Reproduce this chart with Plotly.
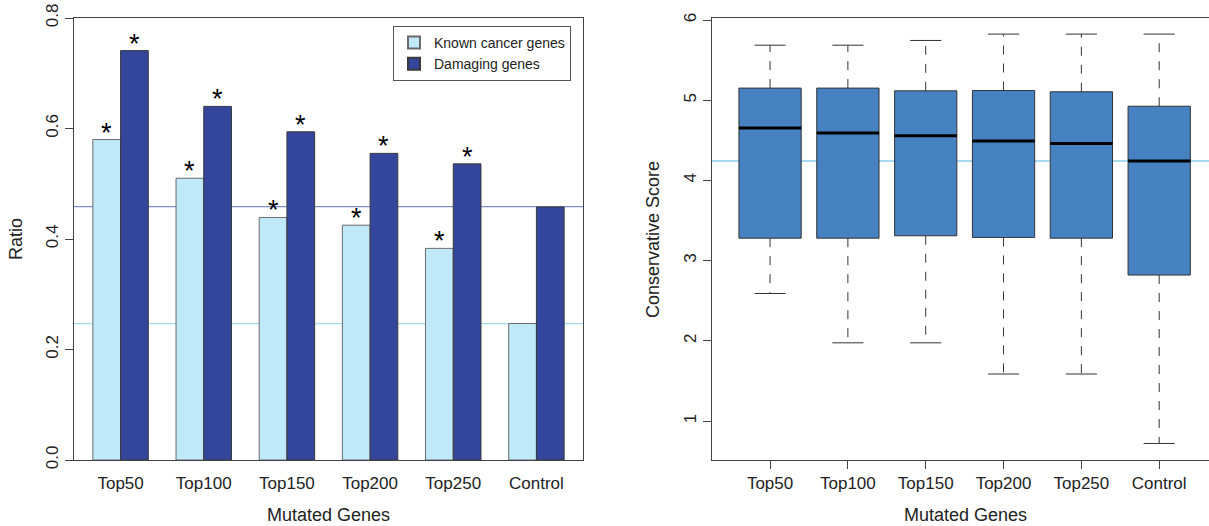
import plotly.graph_objects as go

categories = ["Top50", "Top100", "Top150", "Top200", "Top250", "Control"]
known_cancer = [0.580, 0.510, 0.439, 0.425, 0.383, 0.247]
damaging = [0.741, 0.640, 0.594, 0.555, 0.536, 0.458]
significant = [True, True, True, True, True, False]
ref_known = 0.247
ref_damaging = 0.4587

box_upper = [5.686, 5.686, 5.745, 5.824, 5.824, 5.824]
box_q3 = [5.151, 5.151, 5.117, 5.121, 5.105, 4.925]
box_median = [4.653, 4.590, 4.556, 4.490, 4.460, 4.243]
box_q1 = [3.280, 3.280, 3.310, 3.289, 3.280, 2.820]
box_lower = [2.590, 1.975, 1.975, 1.586, 1.586, 0.720]
ref_score = 4.243

LIGHT = "#BFE9F9"
DARK = "#33469C"
BOXC = "#4682C2"
FONT = "Liberation Sans, Arial, sans-serif"

W, H = 1209, 526
def px(x):
    return x / W
def py(y):
    return 1 - y / H

fig = go.Figure()

# Left: grouped bars
fig.add_trace(go.Bar(x=categories, y=known_cancer, name="Known cancer genes",
                     marker=dict(color=LIGHT, line=dict(color="#6b6b6b", width=1)),
                     xaxis="x", yaxis="y"))
fig.add_trace(go.Bar(x=categories, y=damaging, name="Damaging genes",
                     marker=dict(color=DARK, line=dict(color="#3a3a3a", width=1)),
                     xaxis="x", yaxis="y"))

# asterisks
for i, c in enumerate(categories):
    if significant[i]:
        for val, off in ((known_cancer[i], -1 / 6), (damaging[i], 1 / 6)):
            fig.add_annotation(x=i + off, y=val, xref="x", yref="y", text="*",
                               showarrow=False, yanchor="bottom", yshift=-10,
                               font=dict(size=27, color="black", family=FONT))

# reference lines
fig.add_shape(type="line", xref="x domain", yref="y", x0=0, x1=1,
              y0=ref_damaging, y1=ref_damaging, line=dict(color="#7f8dd0", width=1.3), layer="below")
fig.add_shape(type="line", xref="x domain", yref="y", x0=0, x1=1,
              y0=ref_known, y1=ref_known, line=dict(color="#9fdcef", width=1.3), layer="below")

# Right: boxplots
xs = list(range(1, len(categories) + 1))
fig.add_trace(go.Box(x=xs, q1=box_q1, median=box_median, q3=box_q3,
                     lowerfence=box_q1, upperfence=box_q3,
                     fillcolor=BOXC, line=dict(color="#333333", width=1),
                     width=0.8, whiskerwidth=0, showlegend=False, hoverinfo="skip",
                     xaxis="x2", yaxis="y2"))
for i, xv in enumerate(xs):
    fig.add_trace(go.Scatter(x=[xv, xv], y=[box_q3[i], box_upper[i]], mode="lines",
                             line=dict(color="#333333", width=1, dash="dash"),
                             showlegend=False, hoverinfo="skip", xaxis="x2", yaxis="y2"))
    fig.add_trace(go.Scatter(x=[xv, xv], y=[box_q1[i], box_lower[i]], mode="lines",
                             line=dict(color="#333333", width=1, dash="dash"),
                             showlegend=False, hoverinfo="skip", xaxis="x2", yaxis="y2"))
    for v in (box_upper[i], box_lower[i]):
        fig.add_trace(go.Scatter(x=[xv - 0.2, xv + 0.2], y=[v, v], mode="lines",
                                 line=dict(color="#333333", width=1),
                                 showlegend=False, hoverinfo="skip", xaxis="x2", yaxis="y2"))
    fig.add_trace(go.Scatter(x=[xv - 0.4, xv + 0.4], y=[box_median[i], box_median[i]], mode="lines",
                             line=dict(color="black", width=3),
                             showlegend=False, hoverinfo="skip", xaxis="x2", yaxis="y2"))

fig.add_shape(type="line", xref="x2 domain", yref="y2", x0=0, x1=1,
              y0=ref_score, y1=ref_score, line=dict(color="#87CEEB", width=1.5), layer="below")

tickfont = dict(size=17, color="#222222", family=FONT)
ydom = [py(460), py(18)]

fig.update_layout(
    width=W, height=H,
    margin=dict(l=0, r=0, t=0, b=0),
    paper_bgcolor="white", plot_bgcolor="white",
    barmode="group", bargap=1 / 3, bargroupgap=0,
    font=dict(family=FONT, color="#222222"),
    showlegend=True,
    legend=dict(x=px(571), xanchor="right", y=py(26), yanchor="top",
                bgcolor="white", bordercolor="#555555", borderwidth=1,
                font=dict(size=14, family=FONT, color="#222222"),
                itemsizing="constant", tracegroupgap=0),
    xaxis=dict(domain=[px(74), px(583)], range=[-0.56, 5.56], type="category",
               showline=True, mirror=True, linecolor="#444444", linewidth=1,
               ticks="", showgrid=False, zeroline=False, tickfont=tickfont,
               ticklabelstandoff=8, automargin=False),
    yaxis=dict(domain=ydom, range=[0, 0.8], tickvals=[0, 0.2, 0.4, 0.6, 0.8],
               ticktext=["0.0", "0.2", "0.4", "0.6", "0.8"], tickangle=-90,
               showline=True, mirror=True, linecolor="#444444", linewidth=1,
               ticks="outside", ticklen=8, tickcolor="#444444",
               showgrid=False, zeroline=False, tickfont=tickfont, automargin=False),
    xaxis2=dict(domain=[px(712), 1.0], range=[0.254, 6.64], tickvals=xs, ticktext=categories,
                showline=True, mirror=True, linecolor="#444444", linewidth=1,
                ticks="outside", ticklen=8, tickcolor="#444444",
                showgrid=False, zeroline=False, tickfont=tickfont, anchor="y2", automargin=False),
    yaxis2=dict(domain=ydom, range=[0.514, 6.025], tickvals=[1, 2, 3, 4, 5, 6], tickangle=-90,
                showline=True, mirror=False, linecolor="#444444", linewidth=1,
                ticks="outside", ticklen=8, tickcolor="#444444",
                showgrid=False, zeroline=False, tickfont=tickfont, anchor="x2", automargin=False),
)

titlefont = dict(size=18, color="#222222", family=FONT)
fig.add_annotation(x=px(328), y=py(515), xref="paper", yref="paper", text="Mutated Genes",
                   showarrow=False, yanchor="middle", xanchor="center", font=titlefont)
fig.add_annotation(x=px(16), y=py(239), xref="paper", yref="paper", text="Ratio",
                   showarrow=False, textangle=-90, xanchor="center", yanchor="middle", font=titlefont)
fig.add_annotation(x=px(965), y=py(515), xref="paper", yref="paper", text="Mutated Genes",
                   showarrow=False, yanchor="middle", xanchor="center", font=titlefont)
fig.add_annotation(x=px(653), y=py(240), xref="paper", yref="paper", text="Conservative Score",
                   showarrow=False, textangle=-90, xanchor="center", yanchor="middle", font=titlefont)

fig.write_html("out.html", config={"displayModeBar": False},
               post_script="document.body.style.margin='0';")
